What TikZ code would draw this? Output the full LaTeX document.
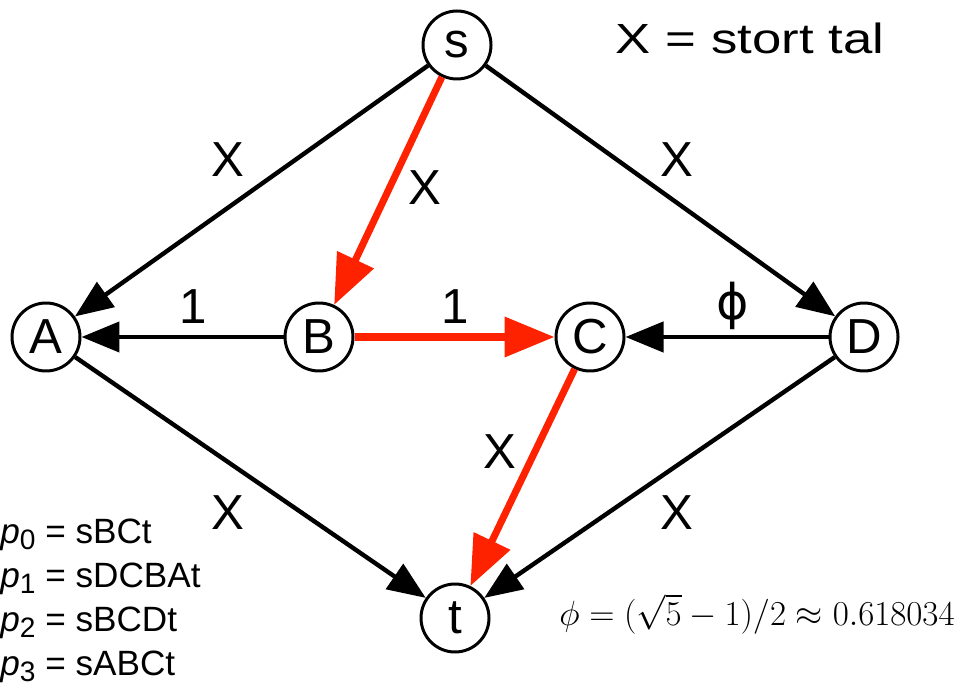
\documentclass[tikz,border=0pt]{standalone}
\usepackage[no-math]{fontspec}
\setmainfont{Liberation Sans}
\newfontfamily\phifont{DejaVu Sans}
\usetikzlibrary{
  positioning,
  arrows.meta
}
\definecolor{pathred}{RGB}{255,34,0}
\newcommand{\pname}[1]{\textit{p}\raisebox{-3.4pt}{\fontsize{16}{16}\selectfont #1}}

\begin{document}
\begin{tikzpicture}[
  vertex/.style={circle, draw, line width=1.7pt, fill=white,
                 minimum size=1.36cm, inner sep=0pt,
                 font=\fontsize{28}{32}\selectfont},
  arr/.style={-{Triangle[length=0.76cm, width=0.6cm]}, line width=2.5pt},
  redarr/.style={-{Triangle[length=1.0cm, width=0.78cm]}, line width=4pt, pathred},
  lbl/.style={font=\fontsize{28}{32}\selectfont, inner sep=0pt},
]
\useasboundingbox (0,0) rectangle (19.18,13.74);

\node[vertex] (s) at (9.14,12.84) {s};
\node[vertex] (A) at (0.92,7.00) {A};
\node[vertex] (B) at (6.38,7.00) {B};
\node[vertex] (C) at (11.80,7.00) {C};
\node[vertex] (D) at (17.28,7.00) {D};
\node[vertex] (t) at (9.10,1.38) {t};

\draw[arr] (s) -- (A) node[lbl, midway, xshift=-0.47cm, yshift=0.62cm] {X};
\draw[arr] (s) -- (D) node[lbl, midway, xshift=0.33cm, yshift=0.62cm] {X};
\draw[arr] (B) -- (A) node[lbl, midway, xshift=0.21cm, yshift=0.60cm] {1};
\draw[arr] (D) -- (C) node[lbl, midway, xshift=0.12cm, yshift=0.62cm] {\phifont ϕ};
\draw[arr] (A) -- (t) node[lbl, midway, xshift=-0.45cm, yshift=-0.71cm] {X};
\draw[arr] (D) -- (t) node[lbl, midway, xshift=0.35cm, yshift=-0.71cm] {X};

% the red path sBCt
\draw[redarr] (s) -- (B) node[lbl, black, midway, xshift=0.74cm, yshift=0.06cm] {X};
\draw[redarr] (B) -- (C) node[lbl, black, midway, xshift=0.01cm, yshift=0.60cm] {1};
\draw[redarr] (C) -- (t) node[lbl, black, midway, xshift=-0.45cm, yshift=0.51cm] {X};

\node[inner sep=0pt] (note) at (15.0,12.98)
  {\scalebox{1.25}[1]{\fontsize{24}{28}\selectfont X = stort tal}};

\node[inner sep=0pt, anchor=north west, align=left,
      font=\fontsize{20}{25}\selectfont] (paths) at (0,3.36)
  {\pname{0} = sBCt\\ \pname{1} = sDCBAt\\ \pname{2} = sBCDt\\ \pname{3} = sABCt};

\node[inner sep=0pt, anchor=base east, font=\fontsize{20}{24}\selectfont] (phi) at (19.10,1.24)
  {\scalebox{0.96}{$\phi = (\sqrt{5}-1)/2 \approx 0.618034$}};

\end{tikzpicture}
\end{document}
